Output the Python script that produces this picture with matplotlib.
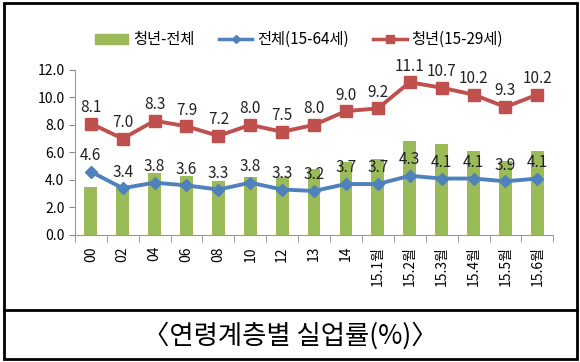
import matplotlib
matplotlib.use("Agg")
import matplotlib.pyplot as plt
from matplotlib.patches import Rectangle
from matplotlib.lines import Line2D
import numpy as np

plt.rcParams['font.family'] = ['Noto Sans CJK KR', 'DejaVu Sans']

categories = ["00", "02", "04", "06", "08", "10", "12", "13", "14",
              "15.1월", "15.2월", "15.3월", "15.4월", "15.5월", "15.6월"]
youth = [8.1, 7.0, 8.3, 7.9, 7.2, 8.0, 7.5, 8.0, 9.0, 9.2, 11.1, 10.7, 10.2, 9.3, 10.2]
total = [4.6, 3.4, 3.8, 3.6, 3.3, 3.8, 3.3, 3.2, 3.7, 3.7, 4.3, 4.1, 4.1, 3.9, 4.1]
gap = [3.5, 3.6, 4.5, 4.3, 3.9, 4.2, 4.2, 4.8, 5.3, 5.5, 6.8, 6.6, 6.1, 5.4, 6.1]
yticks = [0.0, 2.0, 4.0, 6.0, 8.0, 10.0, 12.0]

GREEN = "#9BBB59"
BLUE = "#4F81BD"
RED = "#C0504D"

fig = plt.figure(figsize=(5.8, 3.62), dpi=100)
ax = fig.add_axes([0.129, 0.351, 0.825, 0.456])

x = np.arange(len(categories))
ax.bar(x, gap, width=0.4, color=GREEN, zorder=1)
ax.plot(x, total, color=BLUE, lw=2.8, marker="D", ms=6.5, zorder=3)
ax.plot(x, youth, color=RED, lw=2.8, marker="s", ms=8, zorder=3)

for xi, v in zip(x, youth):
    ax.text(xi, v + 0.55, f"{v:.1f}", ha="center", va="bottom", fontsize=11, color="#222222")
for xi, v in zip(x, total):
    ax.text(xi, v + 0.55, f"{v:.1f}", ha="center", va="bottom", fontsize=11, color="#222222")

ax.set_xlim(-0.5, len(categories) - 0.5)
ax.set_ylim(0, 12)
ax.set_yticks(yticks)
ax.set_yticklabels([f"{t:.1f}" for t in yticks], fontsize=10)
ax.set_xticks(x)
ax.set_xticklabels(categories, rotation=90, fontsize=10)
ax.tick_params(axis="x", length=0, pad=8)
ax.set_xticks(np.arange(-0.5, len(categories), 1.0), minor=True)
ax.tick_params(axis="x", which="minor", length=5, color="#888888")
ax.tick_params(axis="y", length=4, color="#888888")
for s in ["top", "right"]:
    ax.spines[s].set_visible(False)
for s in ["left", "bottom"]:
    ax.spines[s].set_color("#999999")

handles = [
    Rectangle((0, 0), 1, 1, color=GREEN),
    Line2D([], [], color=BLUE, lw=2.5, marker="D", ms=4),
    Line2D([], [], color=RED, lw=2.5, marker="s", ms=6),
]
labels = ["청년-전체", "전체(15-64세)", "청년(15-29세)"]
fig.legend(handles, labels, loc="center", bbox_to_anchor=(0.515, 0.89), ncol=3,
           frameon=False, fontsize=11, handlelength=2.2, columnspacing=1.6,
           handletextpad=0.3)

# outer border and divider
fig.add_artist(Rectangle((0.007, 0.008), 0.988, 0.985, transform=fig.transFigure,
                         fill=False, edgecolor="black", lw=2))
fig.add_artist(Line2D([0.007, 0.995], [0.144, 0.144], transform=fig.transFigure,
                      color="black", lw=2))
fig.text(0.5, 0.072, "〈연령계층별 실업률(%)〉", ha="center", va="center", fontsize=19)

fig.savefig("out.png", dpi=100)
